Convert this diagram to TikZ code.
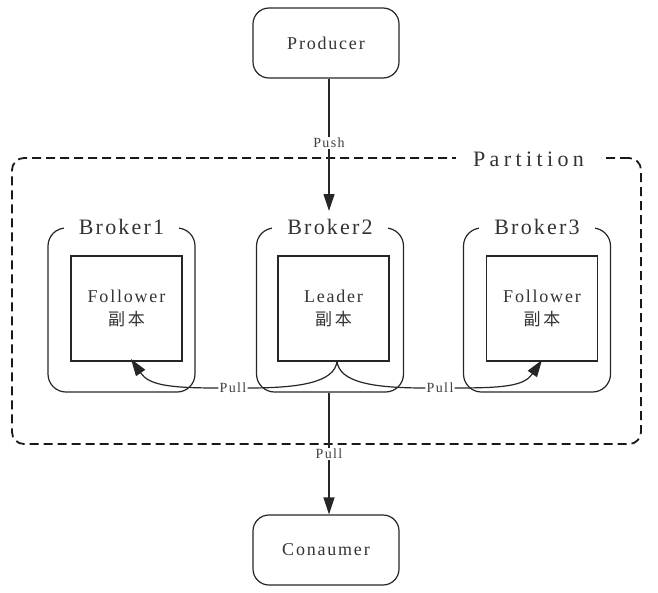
\documentclass[tikz,border=0pt]{standalone}
\usepackage{fontspec}
\newfontfamily\lbl[LetterSpace=10]{Liberation Serif}
\newfontfamily\lblwide[LetterSpace=20]{Liberation Serif}
\newfontfamily\cjkfont{Noto Sans CJK SC}
\usetikzlibrary{arrows.meta}
\begin{document}
\begin{tikzpicture}[x=1pt,y=1pt,
  term/.style={draw=black!85, line width=1.2pt, rounded corners=16pt, minimum width=146pt, minimum height=70pt, font=\lbl\fontsize{18}{20}\selectfont, text=black!80},
  brokerbox/.style={draw=black!85, line width=1.2pt, rounded corners=18pt, minimum width=147pt, minimum height=164pt},
  replica/.style={draw=black!85, line width=1.2pt, minimum width=111pt, minimum height=105pt, align=center, font=\lbl\fontsize{18}{23}\selectfont, text=black!80},
  blabel/.style={fill=white, inner xsep=15pt, inner ysep=2pt, font=\lbl\fontsize{22}{24}\selectfont, text=black!80},
  elabel/.style={fill=white, inner xsep=1pt, inner ysep=1pt, font=\lbl\fontsize{14}{15}\selectfont, text=black!75},
  conn/.style={line width=1.2pt, draw=black!85},
  tipped/.style={-{Triangle[length=17pt,width=11pt]}},
  partbox/.style={draw=black!90, line width=1.8pt, dash pattern=on 9pt off 5pt, rounded corners=12pt, minimum width=629pt, minimum height=286pt}
]
\useasboundingbox (0,0) rectangle (658,-592);
% partition
\node[partbox] (part) at (326.5,-301) {};
\node[blabel, inner xsep=17pt, font=\lblwide\fontsize{22}{24}\selectfont] (partlab) at (528.5,-159) {Partition};
% terminals
\node[term] (prod) at (326,-43) {Producer};
\node[term] (cons) at (326,-550) {Conaumer};
% brokers
\node[brokerbox] (b1) at (121.5,-310) {};
\node[brokerbox] (b2) at (330,-310) {};
\node[brokerbox] (b3) at (537,-310) {};
\node[blabel] (b1lab) at (b1.north) {Broker1};
\node[blabel] (b2lab) at (b2.north) {Broker2};
\node[blabel] (b3lab) at (b3.north) {Broker3};
% replicas
\node[replica] (r1) at (126.5,-308.5) {Follower\\{\cjkfont\fontsize{17}{23}\selectfont 副\,本}};
\node[replica] (r2) at (333.5,-308.5) {Leader\\{\cjkfont\fontsize{17}{23}\selectfont 副\,本}};
\node[replica] (r3) at (542,-308.5) {Follower\\{\cjkfont\fontsize{17}{23}\selectfont 副\,本}};
% labels on connectors
\node[elabel] (push) at (329,-143) {Push};
\node[elabel] (pullc) at (329,-454) {Pull};
\node[elabel] (pl) at (233,-388) {Pull};
\node[elabel] (pr) at (440,-388) {Pull};
\coordinate (pushend) at (329,-211);
\coordinate (J) at (337,-361);
\coordinate (tl) at (131,-359);
\coordinate (tr) at (542,-360);
% connectors
\draw[conn] (prod.south -| push) -- (push.north);
\draw[conn, tipped] (push.south) -- (pushend);
\draw[conn] (b2.south -| pullc) -- (pullc.north);
\draw[conn, tipped] (pullc.south) -- (cons.north -| pullc);
\draw[conn] (J) .. controls +(-2,-22) and +(50,0) .. (pl.east);
\draw[conn, tipped] (pl.west) .. controls +(-50,0) and +(18,-26) .. (tl);
\draw[conn] (J) .. controls +(2,-22) and +(-50,0) .. (pr.west);
\draw[conn, tipped] (pr.east) .. controls +(50,0) and +(-18,-26) .. (tr);
\end{tikzpicture}
\end{document}
